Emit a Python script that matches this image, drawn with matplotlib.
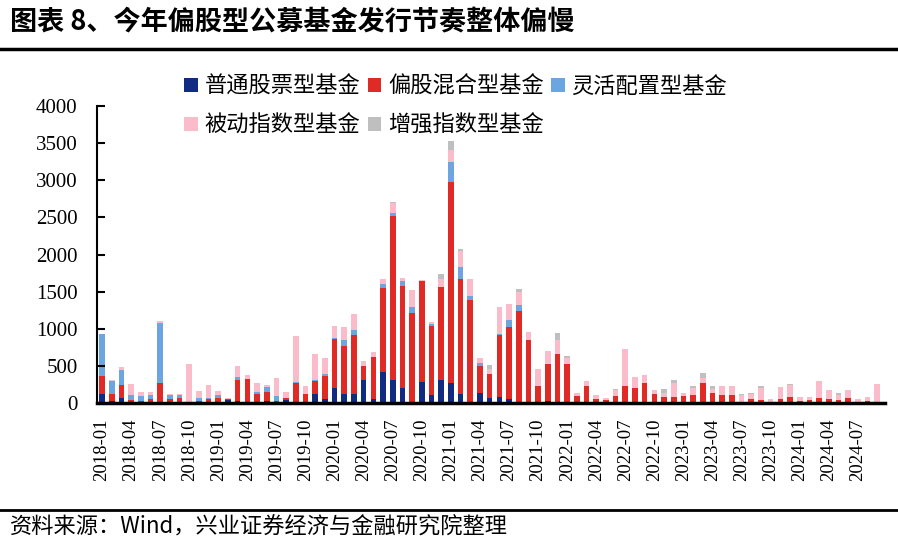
import numpy as np
import pandas as pd
import matplotlib
matplotlib.use('Agg')
import matplotlib.pyplot as plt

plt.rcParams['font.family'] = ['Noto Sans CJK SC', 'DejaVu Sans']

months = pd.date_range('2018-01', '2024-09', freq='MS').strftime('%Y-%m').tolist()

# 普通股票型基金
stock = [120, 25, 70, 10, 5, 5, 5, 3, 0, 0, 20, 5, 10, 40, 35, 10, 10, 35, 5, 40,
         5, 5, 120, 55, 200, 120, 120, 315, 55, 420, 315, 205, 10, 285, 110, 315, 270, 120, 5, 135,
         65, 80, 60, 5, 5, 5, 25, 5, 5, 0, 0, 0, 0, 0, 0, 0, 0, 0, 0, 0,
         0, 0, 0, 0, 0, 0, 0, 0, 0, 0, 0, 0, 0, 0, 0, 0, 0, 0, 0, 0, 0]
# 偏股混合型基金
mixed = [250, 95, 170, 30, 30, 45, 270, 55, 70, 10, 15, 55, 60, 20, 280, 320, 110, 120, 30, 25,
         260, 115, 180, 310, 670, 650, 795, 190, 565, 1130, 2205, 1370, 1200, 1360, 925, 1250, 2710, 1550, 1380, 360,
         330, 835, 965, 1235, 850, 220, 495, 660, 515, 95, 225, 55, 40, 90, 225, 210, 270, 120, 80, 80,
         95, 115, 270, 140, 115, 115, 20, 55, 45, 20, 55, 85, 30, 38, 63, 60, 40, 75, 15, 30, 5]
# 灵活配置型基金
flexible = [555, 180, 210, 70, 65, 65, 810, 45, 35, 0, 30, 10, 45, 0, 35, 0, 25, 65, 65, 0,
            20, 0, 15, 25, 10, 75, 75, 0, 0, 55, 40, 65, 80, 0, 35, 0, 265, 160, 55, 50,
            0, 10, 90, 80, 0, 0, 0, 0, 0, 0, 0, 0, 0, 0, 0, 0, 0, 0, 0, 0,
            0, 0, 0, 0, 0, 0, 0, 0, 0, 0, 0, 0, 0, 0, 0, 0, 0, 0, 0, 0, 0]
# 被动指数型基金
passive = [0, 10, 40, 145, 50, 30, 20, 15, 20, 520, 95, 170, 45, 10, 150, 45, 125, 30, 240, 85,
           620, 115, 340, 215, 160, 175, 210, 65, 65, 65, 130, 50, 235, 15, 20, 110, 170, 215, 225, 60,
           65, 365, 225, 175, 100, 240, 185, 180, 85, 45, 70, 55, 30, 80, 505, 140, 115, 50, 60, 185,
           35, 85, 65, 50, 115, 110, 90, 65, 165, 40, 165, 165, 50, 38, 238, 117, 70, 103, 43, 53, 255]
# 增强指数型基金
enhanced = [0, 0, 0, 0, 0, 0, 0, 0, 0, 0, 0, 0, 0, 0, 0, 0, 0, 0, 0, 0,
            0, 0, 0, 0, 0, 0, 0, 0, 0, 0, 15, 0, 0, 0, 0, 60, 110, 35, 0, 0,
            50, 0, 0, 40, 0, 0, 0, 100, 25, 0, 0, 0, 0, 15, 0, 5, 0, 0, 50, 40,
            0, 30, 65, 35, 0, 0, 15, 15, 25, 0, 0, 10, 0, 0, 0, 0, 20, 0, 0, 0, 0]

series = [('普通股票型基金', stock, '#112B82'),
          ('偏股混合型基金', mixed, '#DF2A26'),
          ('灵活配置型基金', flexible, '#6CA6E0'),
          ('被动指数型基金', passive, '#FABCCA'),
          ('增强指数型基金', enhanced, '#BFBFBF')]

serif = ['Liberation Serif', 'DejaVu Serif']

fig = plt.figure(figsize=(8.98, 5.44), dpi=100)
ax = fig.add_axes([0.108, 0.259, 0.8775, 0.546])

x = np.arange(len(months))
bottom = np.zeros(len(months))
handles = []
for name, vals, col in series:
    vals = np.array(vals, dtype=float)
    b = ax.bar(x, vals, 0.58, bottom=bottom, color=col, label=name, linewidth=0)
    handles.append(b)
    bottom += vals

ax.set_xlim(-0.52, 80.8)
ax.set_ylim(0, 4000)
yt = np.arange(0, 4001, 500)
ax.set_yticks(yt)
ax.set_yticklabels([str(v) for v in yt], family=serif, fontsize=15)
ax.set_xticks(x[::3])
ax.set_xticklabels(months[::3], rotation=90, family=serif, fontsize=13.5)
ax.tick_params(axis='y', direction='in', length=6, width=1.5, pad=14)
ax.tick_params(axis='x', length=0, pad=11)
for s in ['top', 'right']:
    ax.spines[s].set_visible(False)
ax.spines['left'].set_linewidth(1.5)
ax.spines['bottom'].set_linewidth(2.5)

# legend fills column-wise, so reorder to read row by row
order = [0, 3, 1, 4, 2]
fig.legend([handles[i] for i in order], [series[i][0] for i in order],
           loc='upper left', bbox_to_anchor=(0.183, 0.9), ncol=3, frameon=False,
           fontsize=16, handlelength=0.6, handleheight=0.6, handletextpad=0.3,
           columnspacing=0.35, labelspacing=0.75)

fig.text(0.011, 0.96, '图表 8、今年偏股型公募基金发行节奏整体偏慢', fontsize=19.5,
         fontweight='bold', va='center', ha='left')
fig.add_artist(plt.Line2D([0, 1], [0.91, 0.91], color='black', linewidth=2.5))
fig.add_artist(plt.Line2D([0, 1], [0.063, 0.063], color='black', linewidth=2))
fig.text(0.011, 0.031, '资料来源：Wind，兴业证券经济与金融研究院整理', fontsize=16,
         va='center', ha='left')

fig.savefig('out.png', dpi=100)
